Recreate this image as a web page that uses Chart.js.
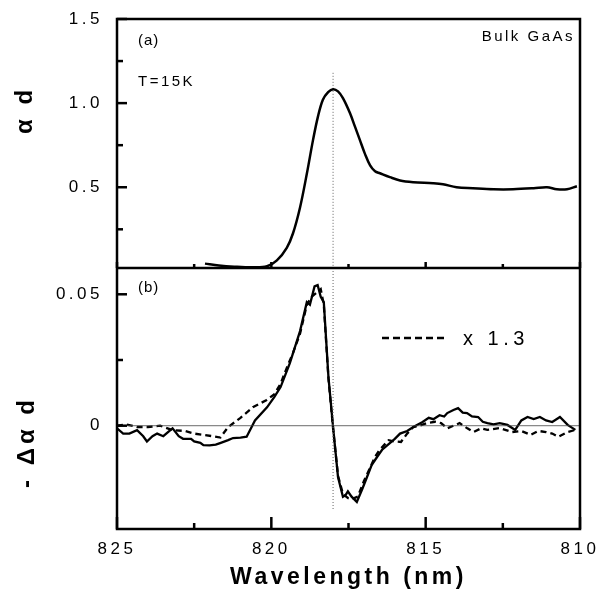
<!DOCTYPE html>
<html>
<head>
<meta charset="utf-8">
<script src="https://cdn.jsdelivr.net/npm/chart.js@4"></script>
<style>
  html, body { margin: 0; padding: 0; background: #fff; }
  #wrap { width: 598px; height: 607px; }
</style>
</head>
<body>
<div id="wrap"><canvas id="chart"></canvas></div>
<script>
// (a) absorption, bulk GaAs
const topWavelength = [822.15, 821.7, 821.2, 820.6, 820.14, 819.82, 819.5, 819.3, 819.07, 818.85,
    818.65, 818.49, 818.33, 818.16, 818.0, 817.84, 817.68, 817.45, 817.29, 817.13, 816.97, 816.8,
    816.64, 816.48, 816.16, 815.83, 815.4, 814.76, 814.44, 814.0, 813.47, 812.8, 812.17, 811.5,
    811.07, 810.75, 810.42, 810.1];
const topAbsorption = [0.046, 0.035, 0.028, 0.024, 0.03, 0.065, 0.14, 0.225, 0.38, 0.58,
    0.78, 0.92, 1.02, 1.065, 1.083, 1.07, 1.03, 0.94, 0.86, 0.78, 0.70, 0.63,
    0.595, 0.583, 0.56, 0.54, 0.53, 0.524, 0.518, 0.50, 0.494, 0.488, 0.488, 0.494,
    0.50, 0.488, 0.488, 0.506];

// (b) differential absorption, solid curve
const diffWavelength = [825.0, 824.8, 824.6, 824.35, 824.15, 824.03, 823.85, 823.7, 823.5, 823.3,
    823.2, 823.0, 822.86, 822.6, 822.5, 822.3, 822.2, 822.0, 821.8, 821.66, 821.4, 821.24, 821.0,
    820.8, 820.53, 820.14, 819.9, 819.7, 819.4, 819.07, 818.85, 818.75, 818.6, 818.5, 818.4, 818.3,
    818.15, 818.0, 817.84, 817.68, 817.6, 817.52, 817.4, 817.23, 817.05, 816.9, 816.75, 816.58,
    816.4, 816.16, 816.0, 815.83, 815.6, 815.4, 815.25, 815.1, 814.9, 814.75, 814.55, 814.4, 814.3,
    814.1, 813.95, 813.8, 813.66, 813.5, 813.3, 813.15, 813.0, 812.8, 812.6, 812.35, 812.1, 811.9,
    811.7, 811.5, 811.3, 811.1, 810.9, 810.65, 810.4, 810.15];
const diffSolid = [-0.001, -0.003, -0.003, -0.0017, -0.004, -0.006, -0.004, -0.003, -0.004, -0.002,
    -0.001, -0.004, -0.005, -0.005, -0.006, -0.0065, -0.0074, -0.0075, -0.0072, -0.0066, -0.0055, -0.0047, -0.0045,
    -0.0042, 0.002, 0.007, 0.011, 0.0147, 0.0238, 0.036, 0.047, 0.046, 0.053, 0.0535, 0.049, 0.047,
    0.0186, -0.0005, -0.0195, -0.027, -0.0265, -0.025, -0.027, -0.029, -0.024, -0.0195, -0.015, -0.012,
    -0.009, -0.0066, -0.005, -0.003, -0.002, -0.0005, 0.0005, 0.0014, 0.003, 0.0025, 0.004, 0.0035, 0.0048,
    0.006, 0.0067, 0.005, 0.0048, 0.0035, 0.0033, 0.0015, 0.001, 0.0005, 0.001, 0.0003, -0.0016, 0.002,
    0.0033, 0.0025, 0.0033, 0.002, 0.0014, 0.0033, 0.0003, -0.0016];

// (b) dashed curve, scaled x 1.3
const dashWavelength = [825.0, 824.7, 824.35, 824.0, 823.6, 823.2, 822.8, 822.5, 822.2, 821.9,
    821.65, 821.4, 821.0, 820.6, 820.15, 819.9, 819.7, 819.5, 819.3, 819.07, 818.85, 818.7, 818.5,
    818.4, 818.3, 818.15, 818.0, 817.84, 817.68, 817.52, 817.4, 817.2, 817.0, 816.8, 816.65, 816.5,
    816.2, 816.0, 815.8, 815.6, 815.4, 815.2, 814.96, 814.7, 814.5, 814.3, 814.1, 813.9, 813.65,
    813.45, 813.2, 813.0, 812.6, 812.2, 811.9, 811.6, 811.35, 811.1, 810.9, 810.7, 810.4, 810.15];
const diffDashed = [0.0, 0.0005, -0.0005, -0.0005, 0.0, -0.0017, -0.002, -0.003, -0.0035, -0.004,
    -0.0045, -0.0005, 0.003, 0.007, 0.0098, 0.012, 0.016, 0.022, 0.0276, 0.035, 0.046, 0.049, 0.051,
    0.052, 0.046, 0.018, -0.001, -0.019, -0.026, -0.0275, -0.028, -0.027, -0.021, -0.016, -0.012, -0.0093,
    -0.0055, -0.006, -0.0062, -0.003, -0.0005, 0.0, 0.001, 0.0015, 0.001, -0.001, 0.0, 0.001, -0.001,
    -0.0024, -0.001, -0.0016, -0.0009, -0.0024, -0.002, -0.0035, -0.002, -0.0024, -0.003, -0.0042, -0.0024, -0.0016];

const peakWavelength = 818.0;
const xTicks = [825, 820, 815, 810];
const xMinorTicks = [822.5, 817.5, 812.5];
const topTicks = [0.5, 1.0, 1.5];
const topMinorTicks = [0.25, 0.75, 1.25];
const bottomTicks = [0, 0.05];
const bottomMinorTicks = [0.025];

const toPoints = (xs, ys) => xs.map((x, i) => ({x, y: ys[i]}));
const fontFamily = "'Liberation Sans', Arial, sans-serif";

function drawText(ctx, text, x, y, font, align, spacing, rotate) {
    ctx.save();
    ctx.font = font;
    ctx.letterSpacing = spacing + "px";
    ctx.fillStyle = "#000";
    ctx.textAlign = align;
    ctx.textBaseline = "middle";
    ctx.translate(x, y);
    if (rotate) ctx.rotate(-Math.PI / 2);
    ctx.fillText(text, 0, 0);
    ctx.restore();
}

const framePlugin = {
    id: "frame",
    beforeDraw(chart) {
        chart.ctx.letterSpacing = "3.5px";
    },
    afterDatasetsDraw(chart) {
        const ctx = chart.ctx;
        const {left, right, top, bottom} = chart.chartArea;
        const x = chart.scales.x;
        const yTop = chart.scales.yTop;
        const yBot = chart.scales.yBot;
        const divider = yTop.bottom;
        ctx.save();
        ctx.letterSpacing = "0px";
        ctx.strokeStyle = "#000";
        ctx.lineWidth = 2.5;
        ctx.strokeRect(left, top, right - left, bottom - top);
        ctx.beginPath();
        ctx.moveTo(left, divider);
        ctx.lineTo(right, divider);
        ctx.stroke();

        const tick = (x0, y0, x1, y1, w) => {
            ctx.lineWidth = w;
            ctx.beginPath();
            ctx.moveTo(x0, y0);
            ctx.lineTo(x1, y1);
            ctx.stroke();
        };
        topTicks.forEach(v => tick(left, yTop.getPixelForValue(v), left + 10, yTop.getPixelForValue(v), 2.5));
        topMinorTicks.forEach(v => tick(left, yTop.getPixelForValue(v), left + 6, yTop.getPixelForValue(v), 2.5));
        bottomTicks.forEach(v => tick(left, yBot.getPixelForValue(v), left + 10, yBot.getPixelForValue(v), 2.5));
        bottomMinorTicks.forEach(v => tick(left, yBot.getPixelForValue(v), left + 6, yBot.getPixelForValue(v), 2.5));
        xTicks.forEach(v => {
            tick(x.getPixelForValue(v), bottom, x.getPixelForValue(v), bottom - 12, 2.5);
            tick(x.getPixelForValue(v), divider, x.getPixelForValue(v), divider - 6, 2.5);
        });
        xMinorTicks.forEach(v => {
            tick(x.getPixelForValue(v), bottom, x.getPixelForValue(v), bottom - 6, 2.5);
            tick(x.getPixelForValue(v), divider, x.getPixelForValue(v), divider - 4, 2.5);
        });

        // legend key for the dashed curve
        ctx.setLineDash([7, 4]);
        tick(382, 338, 448, 338, 2.5);
        ctx.restore();

        drawText(ctx, "(a)", left + 21, top + 22, "15px " + fontFamily, "left", 1);
        drawText(ctx, "T=15K", left + 21, top + 63, "15px " + fontFamily, "left", 2.5);
        drawText(ctx, "Bulk GaAs", right - 5, top + 18, "15px " + fontFamily, "right", 2.5);
        drawText(ctx, "(b)", left + 21, divider + 20, "15px " + fontFamily, "left", 1);
        drawText(ctx, "x 1.3", 463, 339, "20px " + fontFamily, "left", 4.5);
        drawText(ctx, "\u03b1 d", 25, 110, "bold 24px " + fontFamily, "center", 4, true);
        drawText(ctx, "- \u0394\u03b1 d", 27, 442, "bold 24px " + fontFamily, "center", 4, true);
    },
    afterDraw(chart) {
        chart.ctx.letterSpacing = "0px";
    }
};

const fixedTicks = list => scale => { scale.ticks = list.map(value => ({value})); };

new Chart(document.getElementById("chart"), {
    type: "line",
    data: {
        datasets: [
            {data: toPoints(topWavelength, topAbsorption), yAxisID: "yTop",
                borderColor: "#000", borderWidth: 2.5, tension: 0.35},
            {data: toPoints([peakWavelength, peakWavelength], [1.18, 0.02]), yAxisID: "yTop",
                borderColor: "#666", borderWidth: 1, borderDash: [1, 2]},
            {data: toPoints([825, 810], [0, 0]), yAxisID: "yBot",
                borderColor: "#444", borderWidth: 0.8},
            {data: toPoints([peakWavelength, peakWavelength], [0.06, -0.032]), yAxisID: "yBot",
                borderColor: "#666", borderWidth: 1, borderDash: [1, 2]},
            {data: toPoints(dashWavelength, diffDashed), yAxisID: "yBot",
                borderColor: "#000", borderWidth: 2.3, borderDash: [6, 4], tension: 0},
            {data: toPoints(diffWavelength, diffSolid), yAxisID: "yBot",
                borderColor: "#000", borderWidth: 2.3, tension: 0}
        ]
    },
    options: {
        responsive: true,
        maintainAspectRatio: false,
        animation: false,
        layout: {padding: {top: 19, right: 18, left: 0, bottom: 0}},
        elements: {point: {radius: 0}},
        plugins: {legend: {display: false}, tooltip: {enabled: false}},
        scales: {
            x: {
                type: "linear",
                reverse: true,
                min: 810,
                max: 825,
                afterBuildTicks: fixedTicks(xTicks),
                afterFit: scale => { scale.height = 78; },
                grid: {display: false},
                border: {display: false},
                ticks: {autoSkip: false, maxRotation: 0, padding: 2, color: "#000",
                    font: {family: fontFamily, size: 17}},
                title: {display: true, text: "Wavelength (nm)", color: "#000",
                    padding: {top: 0, bottom: 16}, font: {family: fontFamily, size: 23, weight: "bold"}}
            },
            yBot: {
                type: "linear",
                position: "left",
                stack: "panels",
                stackWeight: 261,
                weight: 1,
                min: -0.0393,
                max: 0.060,
                afterBuildTicks: fixedTicks(bottomTicks),
                afterFit: scale => { scale.width = 117; },
                grid: {display: false},
                border: {display: false},
                ticks: {padding: 6, color: "#000", font: {family: fontFamily, size: 17},
                    callback: v => v === 0 ? "0" : v.toFixed(2)}
            },
            yTop: {
                type: "linear",
                position: "left",
                stack: "panels",
                stackWeight: 249,
                weight: 2,
                min: 0.02,
                max: 1.5,
                afterBuildTicks: fixedTicks(topTicks),
                afterFit: scale => { scale.width = 117; },
                grid: {display: false},
                border: {display: false},
                ticks: {padding: 6, color: "#000", font: {family: fontFamily, size: 17},
                    callback: v => v.toFixed(1)}
            }
        }
    },
    plugins: [framePlugin]
});
</script>
</body>
</html>
